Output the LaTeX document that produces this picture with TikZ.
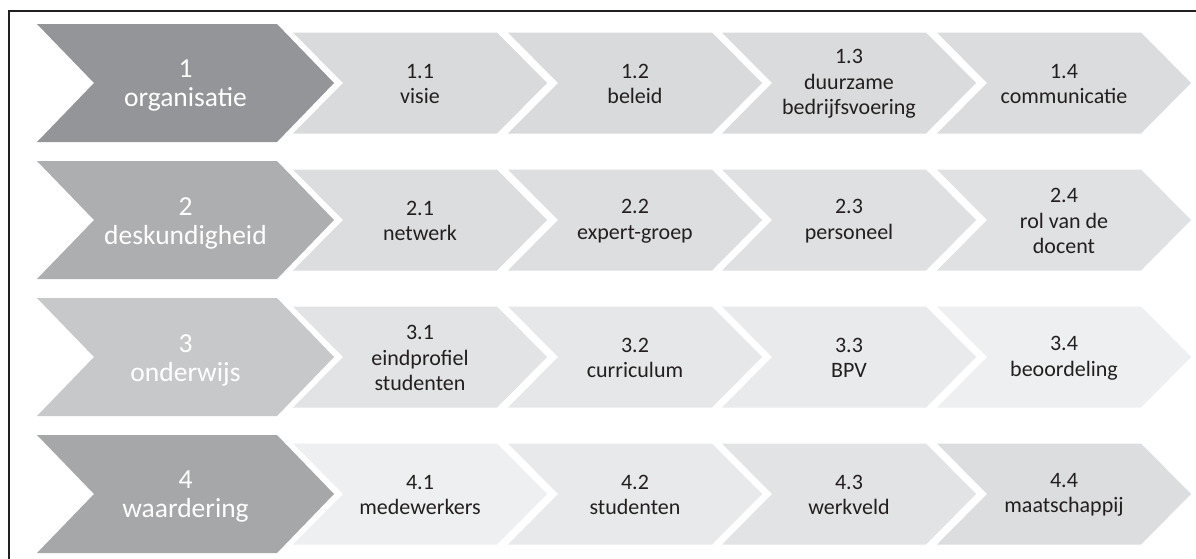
\documentclass[tikz,border=0pt]{standalone}
\usepackage{fontspec}
\setmainfont{Carlito}

% row colours: head chevron, then the four step chevrons
\definecolor{frameline}{HTML}{231F20}
\definecolor{steptext}{HTML}{231F20}
\definecolor{headA}{HTML}{939598}
\definecolor{headB}{HTML}{ADAEB0}
\definecolor{headC}{HTML}{C7C8CA}
\definecolor{headD}{HTML}{A6A7A9}
\definecolor{stepAa}{HTML}{D9DADB}
\definecolor{stepAb}{HTML}{D9DADB}
\definecolor{stepAc}{HTML}{DADBDC}
\definecolor{stepAd}{HTML}{DBDCDD}
\definecolor{stepBa}{HTML}{DCDDDF}
\definecolor{stepBb}{HTML}{DDDEE0}
\definecolor{stepBc}{HTML}{DFE0E1}
\definecolor{stepBd}{HTML}{E0E1E3}
\definecolor{stepCa}{HTML}{E2E3E4}
\definecolor{stepCb}{HTML}{E6E7E8}
\definecolor{stepCc}{HTML}{E9EAEB}
\definecolor{stepCd}{HTML}{EEEFF0}
\definecolor{stepDa}{HTML}{EEEFF0}
\definecolor{stepDb}{HTML}{E8E9EA}
\definecolor{stepDc}{HTML}{E2E3E4}
\definecolor{stepDd}{HTML}{DCDDDE}

\tikzset{
  headtext/.style={align=center, text=white, font=\fontsize{27.5}{29}\selectfont, inner sep=0pt},
  steptxt/.style={align=center, text=steptext, font=\fontsize{22}{25.5}\selectfont, inner sep=0pt},
  frame/.style={draw=frameline, line width=2pt},
}

% chevron: #1 left x, #2 flat top length, #3 point depth, #4 centre y, #5 half height, #6 fill
\newcommand\chevronshape[6]{%
  \fill[#6] (#1,#4-#5) -- ++(#2,0) -- ++(#3,#5) -- ++(-#3,#5) -- ++(-#2,0)
    -- ++(#3,-#5) -- cycle;}

\begin{document}
\begin{tikzpicture}[x=1pt, y=-1pt]
\useasboundingbox (0,0) rectangle (1196,558);
\fill[white] (0,0) rectangle (1196,558);

% outer frame (only top and left edges fall inside the page)
\coordinate (fbl) at (9,560);
\coordinate (ftl) at (9,11);
\coordinate (ftr) at (1198,11);
\draw[frame] (fbl) -- (ftl) -- (ftr);

% head chevrons
\chevronshape{37}{240}{57}{83}{59}{headA}
\chevronshape{37}{240}{57}{220}{59}{headB}
\chevronshape{37}{240}{57}{357}{59}{headC}
\chevronshape{37}{240}{57}{494}{59}{headD}

% step chevrons
\foreach \y/\r in {83/A, 220/B, 357/C, 494/D}{
  \foreach \x/\c in {293/a, 508/b, 722/c, 937/d}{
    \chevronshape{\x}{204}{50}{\y}{50.5}{step\r\c}
  }
}

% head labels
\node[headtext] (h1) at (185.5,86)  {1\\organisatie};
\node[headtext] (h2) at (185.5,223) {2\\deskundigheid};
\node[headtext] (h3) at (185.5,360) {3\\onderwijs};
\node[headtext] (h4) at (185.5,497) {4\\waardering};

% step labels
\node[steptxt] (s11) at (420,84)  {1.1\\visie};
\node[steptxt] (s12) at (635,84)  {1.2\\beleid};
\node[steptxt] (s13) at (849,84)  {1.3\\duurzame\\bedrijfsvoering};
\node[steptxt] (s14) at (1064,84) {1.4\\communicatie};

\node[steptxt] (s21) at (420,221)  {2.1\\netwerk};
\node[steptxt] (s22) at (635,221)  {2.2\\expert-groep};
\node[steptxt] (s23) at (849,221)  {2.3\\personeel};
\node[steptxt] (s24) at (1064,221) {2.4\\rol van de\\docent};

\node[steptxt] (s31) at (420,358)  {3.1\\eindprofiel\\studenten};
\node[steptxt] (s32) at (635,358)  {3.2\\curriculum};
\node[steptxt] (s33) at (849,358)  {3.3\\BPV};
\node[steptxt] (s34) at (1064,358) {3.4\\beoordeling};

\node[steptxt] (s41) at (420,495)  {4.1\\medewerkers};
\node[steptxt] (s42) at (635,495)  {4.2\\studenten};
\node[steptxt] (s43) at (849,495)  {4.3\\werkveld};
\node[steptxt] (s44) at (1064,495) {4.4\\maatschappij};
\end{tikzpicture}
\end{document}
